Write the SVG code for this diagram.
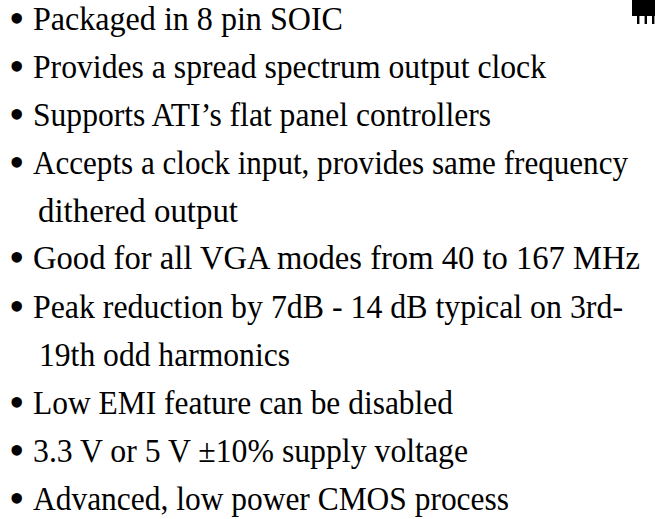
<svg xmlns="http://www.w3.org/2000/svg" width="655" height="519" viewBox="0 0 655 519">
<style>
text{font-family:"Liberation Serif","Times New Roman",serif;font-size:34px;fill:#000}
.b{font-size:44px}
</style>
<rect width="655" height="519" fill="#fff"/>
<g id="chip-icon" fill="#000">
<rect x="632" y="0" width="23" height="16"/>
<rect x="637" y="15" width="2.4" height="9"/>
<rect x="644.6" y="15" width="2.4" height="9"/>
<rect x="652" y="15" width="2.4" height="9"/>
</g>
<g id="item1"><text class="b" x="9" y="33">•</text><text x="33" y="30" textLength="310" lengthAdjust="spacingAndGlyphs">Packaged in 8 pin SOIC</text></g>
<g id="item2"><text class="b" x="9" y="81">•</text><text x="33" y="78" textLength="513" lengthAdjust="spacingAndGlyphs">Provides a spread spectrum output clock</text></g>
<g id="item3"><text class="b" x="9" y="129">•</text><text x="33" y="126" textLength="458" lengthAdjust="spacingAndGlyphs">Supports ATI’s flat panel controllers</text></g>
<g id="item4"><text class="b" x="9" y="177">•</text><text x="33" y="174" textLength="595" lengthAdjust="spacingAndGlyphs">Accepts a clock input, provides same frequency</text>
<text x="38" y="222" textLength="200" lengthAdjust="spacingAndGlyphs">dithered output</text></g>
<g id="item5"><text class="b" x="9" y="272">•</text><text x="33" y="269" textLength="607" lengthAdjust="spacingAndGlyphs">Good for all VGA modes from 40 to 167 MHz</text></g>
<g id="item6"><text class="b" x="9" y="321">•</text><text x="33" y="318" textLength="590" lengthAdjust="spacingAndGlyphs">Peak reduction by 7dB - 14 dB typical on 3rd-</text>
<text x="39" y="366" textLength="251" lengthAdjust="spacingAndGlyphs">19th odd harmonics</text></g>
<g id="item7"><text class="b" x="9" y="417">•</text><text x="33" y="414" textLength="420" lengthAdjust="spacingAndGlyphs">Low EMI feature can be disabled</text></g>
<g id="item8"><text class="b" x="9" y="465">•</text><text x="33" y="462" textLength="435" lengthAdjust="spacingAndGlyphs">3.3 V or 5 V ±10% supply voltage</text></g>
<g id="item9"><text class="b" x="9" y="513">•</text><text x="33" y="510" textLength="476" lengthAdjust="spacingAndGlyphs">Advanced, low power CMOS process</text></g>
</svg>
